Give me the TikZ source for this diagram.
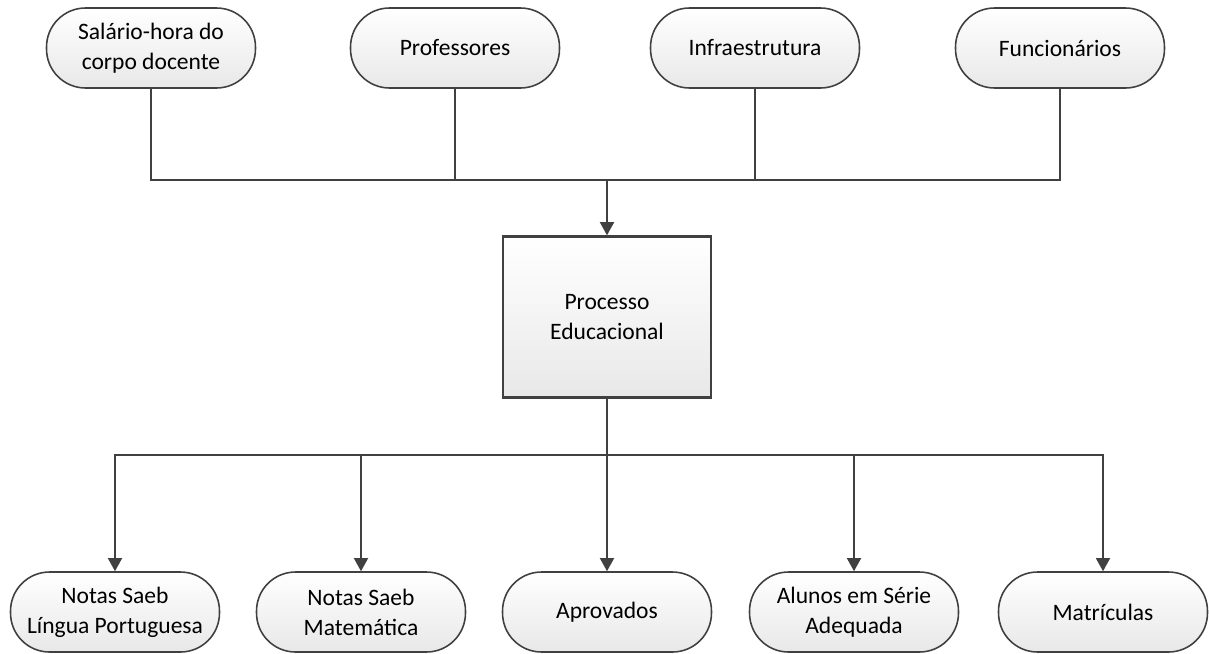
\documentclass[tikz,border=0pt]{standalone}
\usepackage{fontspec}
\setmainfont{Carlito}
\usetikzlibrary{arrows.meta}
\definecolor{linha}{HTML}{404040}
\tikzset{
  caixa/.style={draw=linha,line width=0.9pt,rounded corners=0.78cm,top color=white,bottom color=black!9,
    minimum width=4.18cm,minimum height=1.6cm,align=center,inner sep=2pt},
  processo/.style={draw=linha,line width=1.4pt,top color=white,bottom color=black!9,
    minimum width=4.16cm,minimum height=3.22cm,align=center},
  seta/.style={draw=linha,line width=1pt,-{Triangle[width=8pt,length=7.5pt]}}
}
\begin{document}
\begin{tikzpicture}[x=0.02cm,y=-0.02cm,every node/.style={font=\fontsize{13.4}{17}\selectfont}]
\useasboundingbox (0,0) rectangle (1209,653);

% entradas
\node[caixa] (sal) at (151,48) {Salário-hora do\\corpo docente};
\node[caixa] (prof) at (455,48) {Professores};
\node[caixa] (infra) at (755,48) {Infraestrutura};
\node[caixa] (func) at (1060,48) {Funcionários};

\node[processo] (proc) at (607,317) {Processo\\Educacional};

% saidas
\node[caixa] (lp) at (115,612) {Notas Saeb\\Língua Portuguesa};
\node[caixa] (mat) at (361,612) {Notas Saeb\\Matemática};
\node[caixa] (aprov) at (607,612) {Aprovados};
\node[caixa] (serie) at (854,612) {Alunos em Série\\Adequada};
\node[caixa] (matr) at (1103,612) {Matrículas};

\coordinate (jt) at (607,180);
\coordinate (jb) at (607,455);

\draw[linha,line width=1pt] (sal.south) |- (jt) -| (func.south);
\draw[linha,line width=1pt] (prof.south) -- (prof.south |- jt);
\draw[linha,line width=1pt] (infra.south) -- (infra.south |- jt);
\draw[seta] (jt) -- (proc.north);

\draw[linha,line width=1pt] (proc.south) -- (jb);
\foreach \n in {lp,mat,aprov,serie,matr}
  \draw[seta] (jb) -| (\n.north);

\end{tikzpicture}
\end{document}
